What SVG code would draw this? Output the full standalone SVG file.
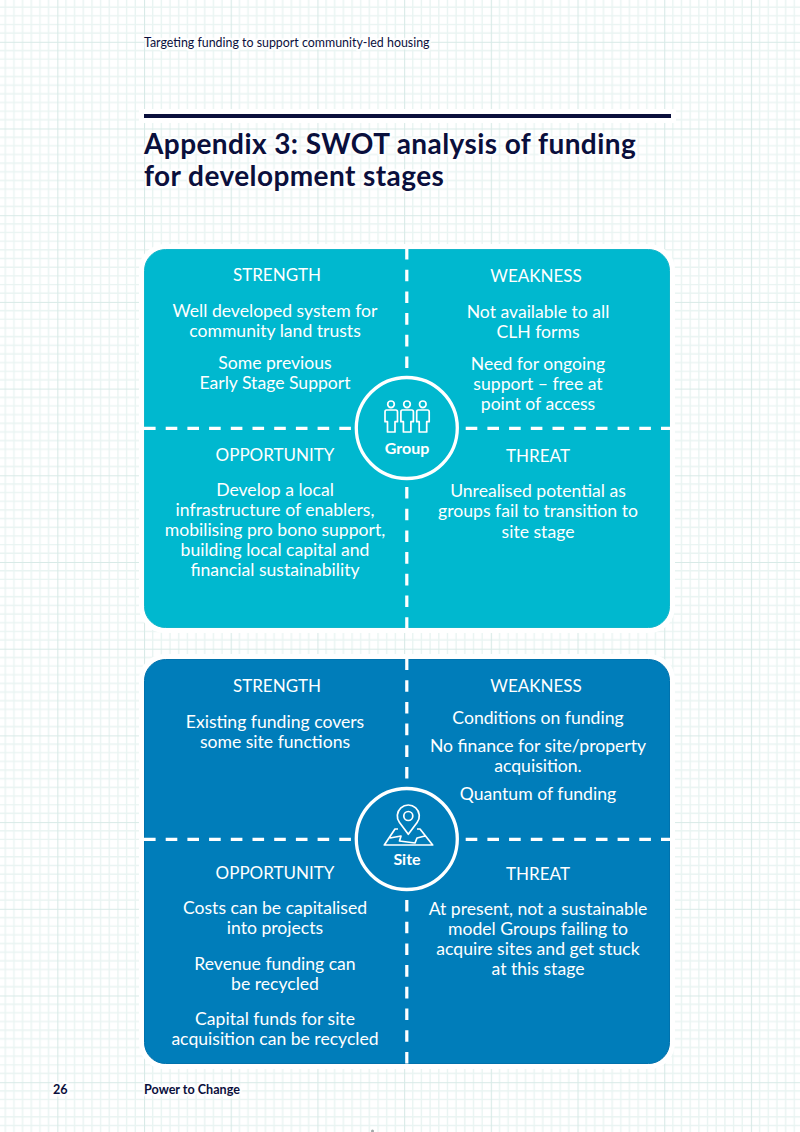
<svg xmlns="http://www.w3.org/2000/svg" width="800" height="1132" viewBox="0 0 800 1132">
<style>
.t{font-family:"Lato","Liberation Sans",sans-serif;fill:#fff;text-anchor:middle;font-size:17.6px}
.k{font-family:"Lato","Liberation Sans",sans-serif;fill:#fff;text-anchor:middle;font-size:17px}
.h{font-family:"Lato","Liberation Sans",sans-serif;fill:#0a0f3c;stroke:#fff;stroke-opacity:.75;stroke-width:5px;paint-order:stroke;stroke-linejoin:round}
.d{stroke:#fff;stroke-width:3.2;fill:none;stroke-dasharray:11.6 10.1}
.i{stroke:#fff;stroke-width:1.7;fill:none;stroke-linejoin:round}
.l{font-family:"Lato","Liberation Sans",sans-serif;fill:#fff;text-anchor:middle;font-size:16px;font-weight:700}
.halo{fill:#fff;stroke:#fff;stroke-width:10}
</style>
<defs>
<pattern id="g" x="57.3" y="41.8" width="86.7" height="86.7" patternUnits="userSpaceOnUse">
<path d="M8.67 0V86.7M17.34 0V86.7M26.01 0V86.7M34.68 0V86.7M43.35 0V86.7M52.02 0V86.7M60.69 0V86.7M69.36 0V86.7M78.03 0V86.7M0 8.67H86.7M0 17.34H86.7M0 26.01H86.7M0 34.68H86.7M0 43.35H86.7M0 52.02H86.7M0 60.69H86.7M0 69.36H86.7M0 78.03H86.7" stroke="#e9f4f2" stroke-width="1.4" fill="none"/>
<path d="M0 0V86.7M0 0H86.7" stroke="#d8eae7" stroke-width="2.2" fill="none"/>
</pattern>
</defs>
<rect width="800" height="1132" fill="#fff"/>
<rect width="800" height="1132" fill="url(#g)"/>
<circle cx="372.500" cy="1131" r="1.500" fill="#a0a8a8"/>
<g id="header">
<text class="h" x="144" y="46.500" font-size="12.400">Targeting funding to support community-led housing</text>
<rect class="halo" x="144" y="114" width="527" height="4"/>
<rect x="144" y="114" width="527" height="4" fill="#0a0f3c"/>
<text class="h" x="144" y="154" font-size="28" font-weight="700" letter-spacing=".42">Appendix 3: SWOT analysis of funding</text>
<text class="h" x="144" y="186" font-size="28" font-weight="700" letter-spacing=".42">for development stages</text>
</g>
<g id="group-panel">
<rect class="halo" x="144" y="249" width="526" height="379" rx="21"/>
<rect x="144.500" y="249.500" width="525" height="378" rx="21" fill="#00b8cf" stroke="#12b6ca"/>
<text class="k" x="277" y="281">STRENGTH</text>
<text class="t" x="275" y="317">Well developed system for</text>
<text class="t" x="275" y="337">community land trusts</text>
<text class="t" x="275" y="369">Some previous</text>
<text class="t" x="275" y="389">Early Stage Support</text>
<text class="k" x="536" y="282">WEAKNESS</text>
<text class="t" x="538" y="318">Not available to all</text>
<text class="t" x="538" y="338">CLH forms</text>
<text class="t" x="538" y="370">Need for ongoing</text>
<text class="t" x="538" y="390">support – free at</text>
<text class="t" x="538" y="410">point of access</text>
<text class="k" x="275" y="460.500">OPPORTUNITY</text>
<text class="t" x="275" y="496">Develop a local</text>
<text class="t" x="275" y="516">infrastructure of enablers,</text>
<text class="t" x="275" y="536">mobilising pro bono support,</text>
<text class="t" x="275" y="556">building local capital and</text>
<text class="t" x="275" y="576">financial sustainability</text>
<text class="k" x="538" y="461.500">THREAT</text>
<text class="t" x="538" y="497">Unrealised potential as</text>
<text class="t" x="538" y="517">groups fail to transition to</text>
<text class="t" x="538" y="538">site stage</text>
</g>
<g id="site-panel">
<rect class="halo" x="144" y="659" width="526" height="405" rx="21"/>
<rect x="144.500" y="659.500" width="525" height="404" rx="21" fill="#007dba" stroke="#0072ad"/>
<text class="k" x="277" y="692">STRENGTH</text>
<text class="t" x="275" y="728">Existing funding covers</text>
<text class="t" x="275" y="748">some site functions</text>
<text class="k" x="536" y="692">WEAKNESS</text>
<text class="t" x="538" y="724">Conditions on funding</text>
<text class="t" x="538" y="752">No finance for site/property</text>
<text class="t" x="538" y="772">acquisition.</text>
<text class="t" x="538" y="800">Quantum of funding</text>
<text class="k" x="275" y="878.500">OPPORTUNITY</text>
<text class="t" x="275" y="914">Costs can be capitalised</text>
<text class="t" x="275" y="934">into projects</text>
<text class="t" x="275" y="970">Revenue funding can</text>
<text class="t" x="275" y="990">be recycled</text>
<text class="t" x="275" y="1025">Capital funds for site</text>
<text class="t" x="275" y="1045">acquisition can be recycled</text>
<text class="k" x="538" y="879.500">THREAT</text>
<text class="t" x="538" y="915">At present, not a sustainable</text>
<text class="t" x="538" y="935">model Groups failing to</text>
<text class="t" x="538" y="955">acquire sites and get stuck</text>
<text class="t" x="538" y="975">at this stage</text>
</g>
<g id="connectors">
<path class="d" d="M406.800 248V370M406.800 487V629M144 428.300H358M465.700 428.300H671"/>
<path class="d" d="M406.800 658.500V780M406.800 900V1065M144 839.300H358M465.700 839.300H671"/>
</g>
<g id="group-icon">
<circle cx="406.800" cy="428" r="50.500" fill="#00b8cf" stroke="#fff" stroke-width="3.300"/>
<g class="i">
<circle cx="391" cy="404.300" r="3.300"/><circle cx="407" cy="404.300" r="3.300"/><circle cx="422.800" cy="404.300" r="3.300"/>
<path d="M386.500 410H395.800Q397.500 410 397.500 412V421.700H395V432H387.500V421.700H385V412Q385 410 386.500 410Z"/>
<path d="M402.400 410H411.700Q413.400 410 413.400 412V421.700H410.900V432H403.400V421.700H400.900V412Q400.900 410 402.400 410Z"/>
<path d="M418.200 410H427.500Q429.200 410 429.200 412V421.700H426.700V432H419.200V421.700H416.700V412Q416.700 410 418.200 410Z"/>
</g>
<text class="l" x="407" y="454">Group</text>
</g>
<g id="site-icon">
<circle cx="406.800" cy="839" r="50.500" fill="#007dba" stroke="#fff" stroke-width="3.300"/>
<g class="i">
<path d="M408.300 834.300L399.500 822.600A11 11 0 1 1 417.100 822.600Z"/>
<circle cx="408.300" cy="816" r="4.500"/>
<path d="M398 829H395L384.300 845H432.700L420 829H417M390 838L401 836L399.500 841L415 843L417 838L425 836"/>
</g>
<text class="l" x="407" y="864.500">Site</text>
</g>
<g id="footer">
<text class="h" x="53" y="1093.500" font-size="12.600" font-weight="700">26</text>
<text class="h" x="144" y="1093.500" font-size="12.600" font-weight="700">Power to Change</text>
</g>
</svg>
